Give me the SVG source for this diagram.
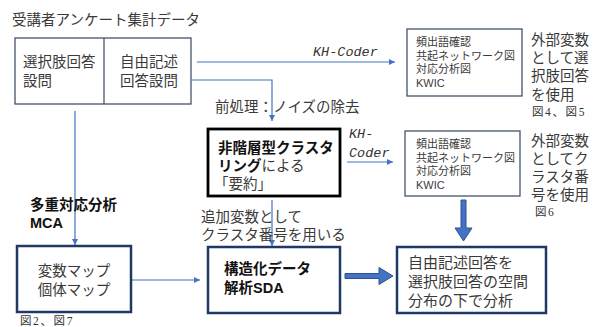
<svg xmlns="http://www.w3.org/2000/svg" width="600" height="327" viewBox="0 0 600 327">
<style>
  .t { font-family: "Liberation Sans", "Noto Sans CJK JP", sans-serif; fill: #3a3a3a; }
  .b { font-weight: bold; fill: #111; }
  .s { font-family: "Liberation Serif", "Noto Sans CJK JP", serif; font-size: 11.5px; fill: #333; letter-spacing: 1.6px; }
  .m { font-family: "Liberation Mono", monospace; font-style: italic; font-size: 13.5px; fill: #333; }
  .thin { fill: #fff; stroke: #44546a; stroke-width: 1.3; }
  .navy { fill: #fff; stroke: #1f3864; stroke-width: 2.5; }
  .blk { fill: #fff; stroke: #000; stroke-width: 2.8; }
  .ln { fill: none; stroke: #4472c4; stroke-width: 1.2; }
  .fat { fill: #4472c4; stroke: #2f528f; stroke-width: 1; }
</style>
<defs>
  <marker id="ah" viewBox="0 0 10 10" refX="10" refY="5" markerWidth="6" markerHeight="6" markerUnits="userSpaceOnUse" orient="auto">
    <path d="M0,0 L10,5 L0,10 z" fill="#4472c4"/>
  </marker>
</defs>

<text class="t" x="12" y="25" font-size="14.5">受講者アンケート集計データ</text>

<g id="survey">
  <rect class="thin" x="15" y="38" width="176" height="66"/>
  <line x1="104" y1="38" x2="104" y2="104" stroke="#44546a" stroke-width="1.3"/>
  <text class="t" x="23" y="67" font-size="14.5">選択肢回答</text>
  <text class="t" x="23" y="86" font-size="14.5">設問</text>
  <text class="t" x="120" y="67" font-size="14.5">自由記述</text>
  <text class="t" x="120" y="86" font-size="14.5">回答設問</text>
</g>

<g id="connectors">
  <line class="ln" x1="197" y1="62" x2="395" y2="62" marker-end="url(#ah)"/>
  <polyline class="ln" points="191,80 272,80 272,121" marker-end="url(#ah)"/>
  <line class="ln" x1="347" y1="162" x2="393" y2="162" marker-end="url(#ah)"/>
  <line class="ln" x1="75" y1="111" x2="75" y2="245" marker-end="url(#ah)"/>
  <line class="ln" x1="272" y1="200" x2="272" y2="246" marker-end="url(#ah)"/>
  <line class="ln" x1="131" y1="280" x2="200" y2="280" marker-end="url(#ah)"/>
  <path class="fat" d="M461,200 h5 v28 h6 l-8.5,13 l-8.5,-13 h6 z"/>
  <path class="fat" d="M345,273.5 h34 v-6 l14,8.5 l-14,8.5 v-6 h-34 z"/>
</g>

<text class="m" x="313" y="56">KH-Coder</text>
<text class="t" x="215" y="112" font-size="14.5">前処理：ノイズの除去</text>
<text class="m" x="349" y="138">KH-</text>
<text class="m" x="349" y="157">Coder</text>
<text class="t b" x="30" y="210" font-size="14.5">多重対応分析</text>
<text class="t b" x="30" y="228" font-size="14.5">MCA</text>
<text class="t" x="201" y="222" font-size="14.5">追加変数として</text>
<text class="t" x="201" y="240" font-size="14.5">クラスタ番号を用いる</text>

<g id="kh1">
  <rect class="thin" x="407" y="29" width="115" height="67"/>
  <text class="t" x="416" y="46" font-size="11">頻出語確認</text>
  <text class="t" x="416" y="59.5" font-size="11">共起ネットワーク図</text>
  <text class="t" x="416" y="73" font-size="11">対応分析図</text>
  <text class="t" x="416" y="87" font-size="11">KWIC</text>
</g>
<g id="note1">
  <text class="t" x="531" y="45" font-size="14.5">外部変数</text>
  <text class="t" x="531" y="63" font-size="14.5">として選</text>
  <text class="t" x="531" y="81" font-size="14.5">択肢回答</text>
  <text class="t" x="531" y="100" font-size="14.5">を使用</text>
  <text class="s" x="532" y="116">図4、図5</text>
</g>

<g id="cluster">
  <rect class="blk" x="208" y="129" width="132" height="67"/>
  <text class="t" x="218" y="153" font-size="14.5"><tspan class="b">非階層型クラスタ</tspan></text>
  <text class="t" x="218" y="171" font-size="14.5"><tspan class="b">リング</tspan>による</text>
  <text class="t" x="214" y="189" font-size="14.5">「要約」</text>
</g>

<g id="kh2">
  <rect class="thin" x="405" y="131" width="115" height="65"/>
  <text class="t" x="416" y="148" font-size="11">頻出語確認</text>
  <text class="t" x="416" y="161.5" font-size="11">共起ネットワーク図</text>
  <text class="t" x="416" y="175" font-size="11">対応分析図</text>
  <text class="t" x="416" y="189" font-size="11">KWIC</text>
</g>
<g id="note2">
  <text class="t" x="531" y="146" font-size="14.5">外部変数</text>
  <text class="t" x="531" y="164" font-size="14.5">としてク</text>
  <text class="t" x="531" y="182" font-size="14.5">ラスタ番</text>
  <text class="t" x="531" y="200" font-size="14.5">号を使用</text>
  <text class="s" x="535" y="216">図6</text>
</g>

<g id="maps">
  <rect class="navy" x="17" y="246" width="114" height="66"/>
  <text class="t" x="74" y="276" font-size="14.5" text-anchor="middle">変数マップ</text>
  <text class="t" x="74" y="295" font-size="14.5" text-anchor="middle">個体マップ</text>
  <text class="s" x="20" y="325">図2、図7</text>
</g>

<g id="sda">
  <rect class="navy" x="208" y="247" width="132" height="66"/>
  <text class="t b" x="224" y="274" font-size="14.5">構造化データ</text>
  <text class="t b" x="224" y="293" font-size="14.5">解析SDA</text>
</g>

<g id="result">
  <rect class="navy" x="397" y="247" width="149" height="66"/>
  <text class="t" x="408" y="268" font-size="15">自由記述回答を</text>
  <text class="t" x="408" y="287" font-size="15">選択肢回答の空間</text>
  <text class="t" x="408" y="306" font-size="15">分布の下で分析</text>
</g>
</svg>
